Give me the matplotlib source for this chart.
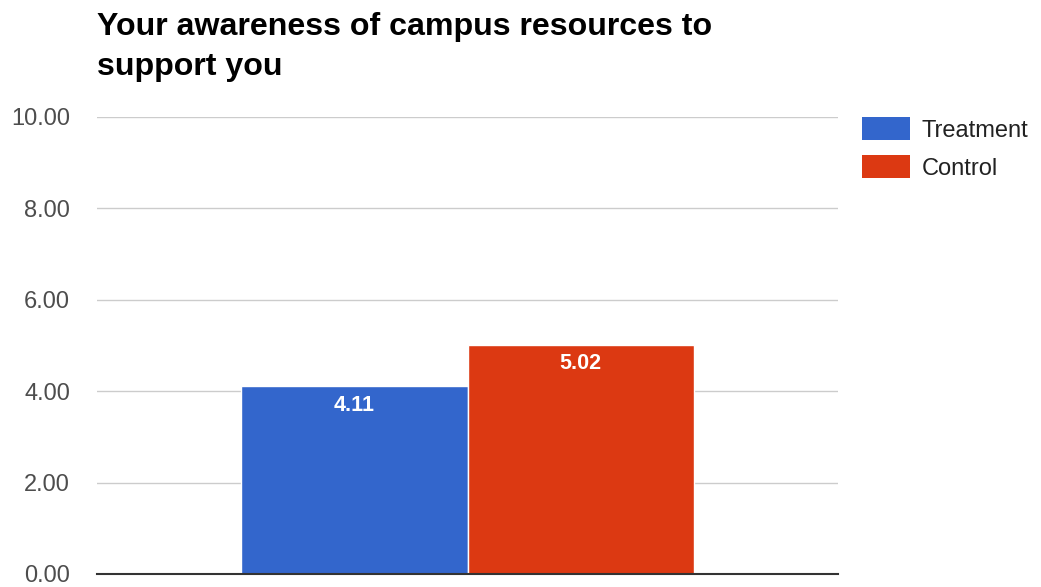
import matplotlib.pyplot as plt
from matplotlib.patches import Patch

# chart data
series = ["Treatment", "Control"]
values = [4.11, 5.02]
colors = ["#3366cc", "#dc3912"]
yticks = [0, 2, 4, 6, 8, 10]
title = "Your awareness of campus resources to\nsupport you"

plt.rcParams["font.family"] = ["Liberation Sans", "DejaVu Sans"]

fig = plt.figure(figsize=(10.41, 5.87), dpi=100)
ax = fig.add_axes([97 / 1041, 13 / 587, (838 - 97) / 1041, (574 - 117) / 587])

xpos = [-0.305, 0.305]
bars = ax.bar(xpos, values, width=0.61, color=colors, edgecolor="white", linewidth=1, zorder=3)

for b, v in zip(bars, values):
    ax.annotate(f"{v:.2f}", (b.get_x() + b.get_width() / 2, v), xytext=(0, -6),
                textcoords="offset points", ha="center", va="top",
                color="white", fontsize=15.5, fontweight="bold", zorder=4)

ax.set_xlim(-1, 1)
ax.set_ylim(0, 10)
ax.set_yticks(yticks)
ax.set_yticklabels([f"{t:.2f}" for t in yticks])
ax.set_xticks([])
ax.tick_params(axis="y", length=0, pad=19.5, labelsize=17, labelcolor="#4d4d4d")
ax.grid(axis="y", color="#cccccc", linewidth=1, zorder=0)
for s in ["top", "right", "left"]:
    ax.spines[s].set_visible(False)
ax.spines["bottom"].set_color("#333333")
ax.spines["bottom"].set_linewidth(1.5)
ax.spines["bottom"].set_zorder(5)

fig.text(97 / 1041, 1 - 12 / 587, title, ha="left", va="top", fontsize=23.1,
         fontweight="bold", color="#000000", linespacing=1.45)

handles = [Patch(facecolor=c, label=s) for c, s in zip(colors, series)]
fig.legend(handles=handles, loc="upper left", bbox_to_anchor=(862 / 1041, 1 - 117 / 587),
           frameon=False, fontsize=17, handlelength=2.03, handleheight=1.15,
           labelspacing=0.56, handletextpad=0.5, borderpad=0, borderaxespad=0,
           labelcolor="#222222")

fig.savefig("out.png", dpi=100)
